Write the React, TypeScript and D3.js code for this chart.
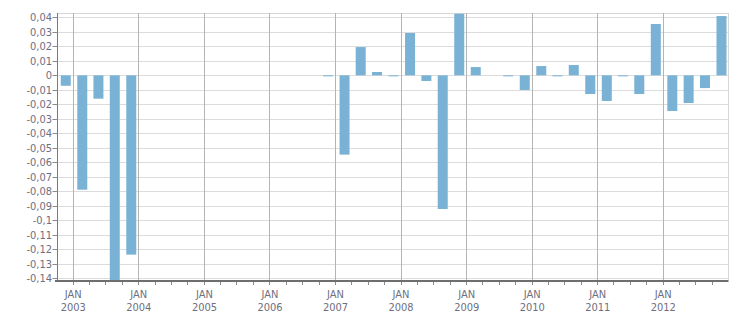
import React from "react";
import * as d3 from "d3";

// Quarterly series: Q4 2002 ... Q4 2012 (41 quarters)
const startYear = 2002;
const startQuarter = 4;
const values: (number | null)[] = [
  -0.0072, // 2002 Q4
  -0.0789, -0.0161, -0.1412, -0.1237, // 2003
  null, null, null, null, // 2004
  null, null, null, null, // 2005
  null, null, null, -0.0007, // 2006
  -0.0547, 0.0195, 0.0023, -0.0007, // 2007
  0.0292, -0.0039, -0.0922, 0.0425, // 2008
  0.0057, null, -0.0007, -0.0101, // 2009
  0.0064, -0.0007, 0.0071, -0.0129, // 2010
  -0.0177, -0.0007, -0.0129, 0.0354, // 2011
  -0.0246, -0.0191, -0.0088, 0.0409, // 2012
];
const yTicks: number[] = [
  0.04, 0.03, 0.02, 0.01, 0, -0.01, -0.02, -0.03, -0.04, -0.05, -0.06, -0.07,
  -0.08, -0.09, -0.1, -0.11, -0.12, -0.13, -0.14,
];
const yearLabels: number[] = [2003, 2004, 2005, 2006, 2007, 2008, 2009, 2010, 2011, 2012];
const monthLabel = "JAN";

const W = 751;
const H = 313;
const left = 57.5;
const right = 728.5;
const top = 13;
const bottom = 280;

const fmt = d3
  .formatLocale({ decimal: ",", thousands: ".", grouping: [3], currency: ["", ""], minus: "-" })
  .format("~g");

export default function App() {
  const x = d3
    .scaleTime()
    .domain([new Date(2002, 9, 8), new Date(2013, 0, 1)])
    .range([left, right]);
  const y = d3.scaleLinear().domain([-0.1412, 0.043]).range([bottom, top]);

  const bars = values.map((v, i) => {
    const qIndex = startQuarter - 1 + i;
    const yr = startYear + Math.floor(qIndex / 4);
    const q = qIndex % 4;
    const qStart = new Date(yr, q * 3, 1);
    const date = d3.timeDay.offset(qStart, 53);
    return { date, v };
  });

  const quarterTicks = d3.timeMonth.every(3)!.range(x.domain()[0], x.domain()[1]);
  const barW = 10;
  const font = '"DejaVu Sans Condensed", "DejaVu Sans", sans-serif';
  const textColor = "#6f6f80";

  return (
    <svg
      width={W}
      height={H}
      style={{ position: "absolute", left: 0, top: 0, background: "#fff" }}
      fontFamily={font}
      fontSize={11}
    >
      {/* horizontal gridlines */}
      {yTicks.map((t) => (
        <line
          key={"g" + t}
          x1={left}
          x2={right}
          y1={Math.round(y(t)) + 0.5}
          y2={Math.round(y(t)) + 0.5}
          stroke="#dcdcdc"
        />
      ))}
      {/* plot border top/right */}
      <line x1={left} x2={right} y1={top + 0.5} y2={top + 0.5} stroke="#d6d6d6" />
      <line x1={right} x2={right} y1={top} y2={bottom} stroke="#d6d6d6" />
      {/* vertical year gridlines */}
      {yearLabels.map((yr) => {
        const xx = Math.round(x(new Date(yr, 0, 1))) + 0.5;
        return <line key={"v" + yr} x1={xx} x2={xx} y1={top} y2={bottom} stroke="#b4b4b4" />;
      })}
      {/* bars */}
      {bars.map((b, i) =>
        b.v === null ? null : (
          <rect
            key={"b" + i}
            x={x(b.date) - barW / 2}
            width={barW}
            y={Math.min(y(0), y(b.v))}
            height={Math.max(1, Math.abs(y(b.v) - y(0)))}
            fill="#79b2d4"
          />
        )
      )}
      {/* y axis */}
      <line x1={left} x2={left} y1={top} y2={bottom + 1} stroke="#7a7a7a" />
      {yTicks.map((t) => {
        const yy = Math.round(y(t)) + 0.5;
        return (
          <g key={"yt" + t}>
            <line x1={left - 5} x2={left} y1={yy} y2={yy} stroke="#8a8a8a" />
            <text x={left - 5.5} y={yy} dy="0.35em" textAnchor="end" fill={textColor}>
              {fmt(t)}
            </text>
          </g>
        );
      })}
      {/* x axis */}
      <line x1={55} x2={right} y1={bottom + 1} y2={bottom + 1} stroke="#6e6e6e" strokeWidth={2} />
      {quarterTicks.map((d, i) => {
        const xx = Math.round(x(d)) + 0.5;
        return <line key={"qt" + i} x1={xx} x2={xx} y1={bottom + 2} y2={bottom + 5} stroke="#8a8a8a" />;
      })}
      {yearLabels.map((yr) => {
        const xx = x(new Date(yr, 0, 1)) + 0.5;
        return (
          <g key={"xl" + yr}>
            <text x={xx} y={298} textAnchor="middle" fill={textColor}>
              {monthLabel}
            </text>
            <text x={xx} y={310.5} textAnchor="middle" fill={textColor}>
              {yr}
            </text>
          </g>
        );
      })}
    </svg>
  );
}
